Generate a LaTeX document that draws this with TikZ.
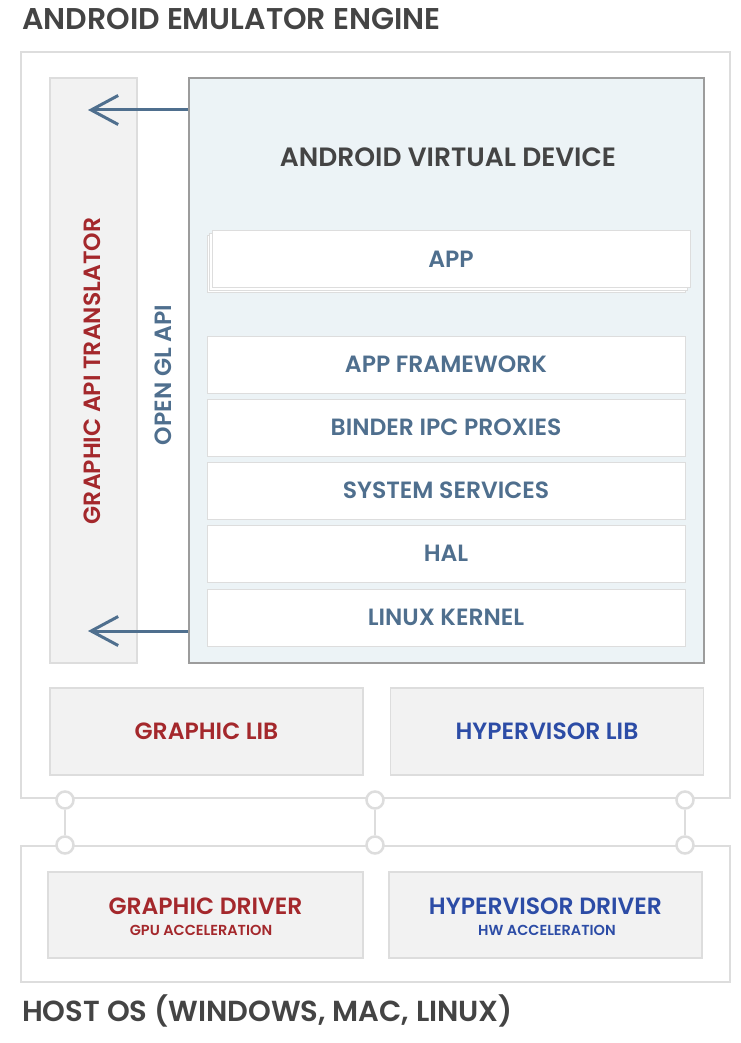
\documentclass[tikz,border=0pt]{standalone}
\usepackage{fontspec}
\setmainfont{Poppins}[BoldFont={Poppins SemiBold}]
\usepackage{tikz}
\usetikzlibrary{arrows.meta}
\definecolor{txtgray}{HTML}{444444}
\definecolor{darkred}{HTML}{A4282C}
\definecolor{hvblue}{HTML}{2C4CA6}
\definecolor{slate}{HTML}{4F6F8E}
\definecolor{boxfill}{HTML}{F2F2F2}
\definecolor{boxline}{HTML}{DDDDDD}
\definecolor{avdfill}{HTML}{ECF3F6}
\definecolor{avdline}{HTML}{9C9C9C}

\begin{document}
\begin{tikzpicture}[x=1pt, y=-1pt, font=\fontsize{23.5}{28}\bfseries,
    frame/.style={draw=boxline, line width=1.5pt},
    libbox/.style={draw=boxline, line width=1.5pt, fill=boxfill, minimum width=313pt, minimum height=87pt},
    layer/.style={draw=boxline, line width=1pt, fill=white, minimum width=478pt, minimum height=57pt, text=slate},
    sublbl/.style={font=\fontsize{14.5}{17}\bfseries},
    arr/.style={draw=slate, line width=3pt, -{Straight Barb[length=27pt, width=29pt, line width=3pt]}},
    joint/.style={draw=boxline, line width=2.5pt, fill=white, circle, minimum size=17pt, inner sep=0pt}]
	\useasboundingbox[fill=white] (0,0) rectangle (740,1043);
	% engine frame and title
	\node[anchor=base west, text=txtgray, font=\fontsize{30}{36}\bfseries, inner sep=0pt] (title) at (22,30) {ANDROID EMULATOR ENGINE};
	\draw[frame] (21,52) rectangle (730,798);
	% translator column
	\node[draw=boxline, line width=1.5pt, fill=boxfill, minimum width=87pt, minimum height=585pt] (trans) at (93.5,370.5) {};
	\node[rotate=90, text=darkred] (translbl) at (92,371) {GRAPHIC API TRANSLATOR};
	\node[rotate=90, text=slate] (gl) at (163,375) {OPEN GL API};
	% virtual device
	\node[draw=avdline, line width=1.5pt, fill=avdfill, minimum width=515pt, minimum height=585pt] (avd) at (446.5,370.5) {};
	\node[text=txtgray, font=\fontsize{26.5}{32}\bfseries] (avdlbl) at (448,157) {ANDROID VIRTUAL DEVICE};
	\node[layer] (app2) at (446,264) {};
	\node[layer] (app1) at (448.5,261.5) {};
	\node[layer] (app) at (451,259) {APP};
	\node[layer] (fw) at (446,364.5) {APP FRAMEWORK};
	\node[layer] (binder) at (446,427.5) {BINDER IPC PROXIES};
	\node[layer] (sys) at (446,490.5) {SYSTEM SERVICES};
	\node[layer] (hal) at (446,553.5) {HAL};
	\node[layer] (kernel) at (446,617.5) {LINUX KERNEL};
	% calls into the translator
	\coordinate (ta) at (88,110);
	\coordinate (tb) at (88,631);
	\draw[arr] (avd.west |- ta) -- (ta);
	\draw[arr] (avd.west |- tb) -- (tb);
	% libs
	\node[libbox, text=darkred] (glib) at (206.5,731.5) {GRAPHIC LIB};
	\node[libbox, text=hvblue] (hlib) at (547,731.5) {HYPERVISOR LIB};
	% host frame
	\draw[frame] (21,846) rectangle (730,982);
	\node[libbox, minimum width=315pt, minimum height=86pt] (gdrv) at (205.5,915) {};
	\node[text=darkred] (gdrvlbl) at (205.5,906) {GRAPHIC DRIVER};
	\node[sublbl, text=darkred] (gpu) at (201,930) {GPU ACCELERATION};
	\node[libbox, minimum width=313pt, minimum height=86pt] (hdrv) at (545.5,915) {};
	\node[text=hvblue] (hdrvlbl) at (545.5,906) {HYPERVISOR DRIVER};
	\node[sublbl, text=hvblue] (hw) at (547,930) {HW ACCELERATION};
	\node[anchor=base west, text=txtgray, font=\fontsize{29}{35}\bfseries, inner sep=0pt] (host) at (22,1021) {HOST OS (WINDOWS, MAC, LINUX)};
	% joints between engine and host
	\foreach \x [count=\i] in {65,375,685} {
		\node[joint] (u\i) at (\x,800) {};
		\node[joint] (d\i) at (\x,845) {};
		\draw[boxline, line width=2.5pt] (u\i) -- (d\i);
	}
\end{tikzpicture}
\end{document}
